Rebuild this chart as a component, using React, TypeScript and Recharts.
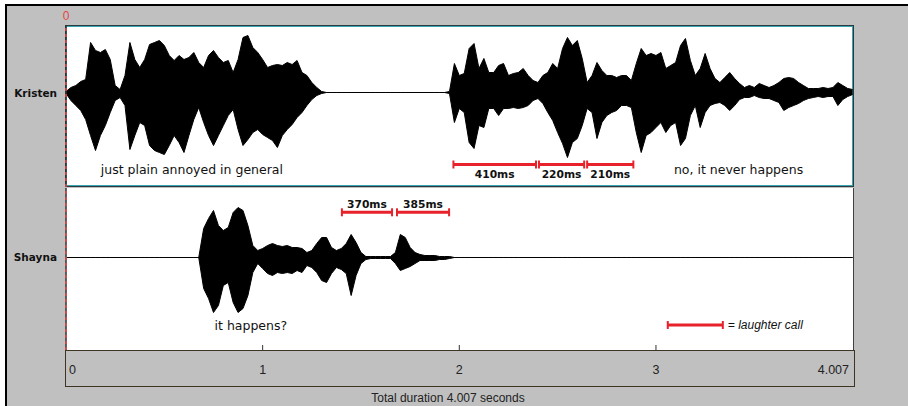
import React from "react";
import {
  Area,
  ComposedChart,
  ReferenceDot,
  ReferenceLine,
  XAxis,
  YAxis,
} from "recharts";

const DURATION = 4.007; // seconds
const SAMPLE_STEP = 0.025; // seconds between envelope samples

// waveform envelopes: peak above / below the zero line, one value per sample
const kristenUpper = [
  1, 5, 7, 11, 13, 50, 42, 40, 43, 33, 7, 3, 17, 50, 33, 25, 33, 48, 50, 52,
  47, 37, 32, 37, 33, 35, 40, 30, 25, 37, 42, 35, 30, 32, 20, 33, 55, 57, 45, 40,
  33, 25, 27, 28, 27, 30, 28, 32, 20, 17, 10, 5, 1,
  0, 0, 0, 0, 0, 0, 0, 0, 0, 0, 0, 0, 0, 0, 0, 0, 0, 0, 0, 0, 0, 0, 0, 0, 0,
  1, 29, 17, 19, 44, 49, 24, 34, 20, 20, 27, 29, 17, 19, 20, 24, 17, 12, 10, 17,
  20, 29, 24, 44, 55, 47, 52, 34, 10, 17, 30, 22, 17, 17, 15, 17, 17, 12, 29, 44,
  37, 39, 37,
  40, 24, 27, 30, 47, 54, 32, 17, 24, 39, 24, 14, 10, 15, 20, 14, 9, 5, 7, 5,
  9, 7, 5, 7, 10, 14, 15, 14, 10, 7, 4, 4, 4, 5, 4, 5, 10, 7, 4, 3,
];
const kristenLower = [
  1, 8, 13, 18, 27, 43, 58, 43, 33, 20, 8, 5, 13, 57, 43, 30, 33, 53, 58, 60,
  62, 53, 43, 50, 60, 43, 27, 15, 30, 43, 53, 43, 33, 23, 17, 37, 53, 47, 40, 37,
  42, 45, 48, 55, 43, 37, 32, 25, 20, 13, 7, 3, 1,
  0, 0, 0, 0, 0, 0, 0, 0, 0, 0, 0, 0, 0, 0, 0, 0, 0, 0, 0, 0, 0, 0, 0, 0, 0,
  1, 30, 16, 20, 50, 56, 33, 35, 16, 16, 23, 16, 16, 15, 16, 15, 13, 8, 6, 11,
  20, 28, 40, 51, 65, 50, 46, 33, 16, 20, 46, 30, 23, 20, 18, 13, 13, 15, 40, 60,
  43, 40, 35,
  30, 40, 33, 30, 53, 46, 23, 13, 35, 20, 13, 11, 10, 13, 18, 13, 7, 5, 5, 3,
  5, 6, 6, 8, 10, 18, 15, 13, 11, 8, 6, 5, 4, 5, 4, 4, 13, 7, 4, 2,
];
const shaynaUpper = [
  0, 0, 0, 0, 0, 0, 0, 0, 0, 0, 0, 0, 0, 0, 0, 0, 0, 0, 0, 0, 0, 0, 0, 0, 0, 0, 0, 0,
  29, 39, 47, 32, 27, 30, 45, 50, 47, 32, 12, 7, 9, 12, 14, 12, 11, 12, 10, 10,
  9, 5, 7, 14, 20, 20, 10, 7, 9, 14, 23, 15, 5, 1, 1, 1, 1, 1, 1, 5,
  23, 20, 10, 5, 3, 2, 2, 2, 1, 1, 1,
  0, 0, 0, 0, 0, 0, 0, 0, 0, 0, 0, 0, 0, 0, 0, 0, 0, 0, 0, 0,
  0, 0, 0, 0, 0, 0, 0, 0, 0, 0, 0, 0, 0, 0, 0, 0, 0, 0, 0, 0,
  0, 0, 0, 0, 0, 0, 0, 0, 0, 0, 0, 0, 0, 0, 0, 0, 0, 0, 0, 0,
  0, 0, 0, 0, 0, 0, 0, 0, 0, 0, 0, 0, 0, 0, 0, 0, 0, 0, 0, 0, 0, 0,
];
const shaynaLower = [
  0, 0, 0, 0, 0, 0, 0, 0, 0, 0, 0, 0, 0, 0, 0, 0, 0, 0, 0, 0, 0, 0, 0, 0, 0, 0, 0, 0,
  31, 41, 55, 48, 28, 25, 45, 55, 51, 38, 15, 6, 11, 16, 18, 15, 16, 15, 16, 13,
  15, 8, 10, 15, 23, 25, 16, 10, 12, 16, 38, 18, 6, 2, 1, 1, 1, 1, 1, 6,
  13, 11, 9, 6, 3, 3, 3, 3, 2, 2, 1,
  0, 0, 0, 0, 0, 0, 0, 0, 0, 0, 0, 0, 0, 0, 0, 0, 0, 0, 0, 0,
  0, 0, 0, 0, 0, 0, 0, 0, 0, 0, 0, 0, 0, 0, 0, 0, 0, 0, 0, 0,
  0, 0, 0, 0, 0, 0, 0, 0, 0, 0, 0, 0, 0, 0, 0, 0, 0, 0, 0, 0,
  0, 0, 0, 0, 0, 0, 0, 0, 0, 0, 0, 0, 0, 0, 0, 0, 0, 0, 0, 0, 0, 0,
];

const timeTicks = [0, 1, 2, 3, 4.007];

// laughter calls (seconds)
const kristenCalls = [
  { label: "410ms", start: 1.97, end: 2.39 },
  { label: "220ms", start: 2.405, end: 2.635 },
  { label: "210ms", start: 2.65, end: 2.885 },
];
const shaynaCalls = [
  { label: "370ms", start: 1.403, end: 1.658 },
  { label: "385ms", start: 1.683, end: 1.948 },
];
const kristenCaptions = [
  { text: "just plain annoyed in general", t: 0.64 },
  { text: "no, it never happens", t: 3.42 },
];
const shaynaCaptions = [{ text: "it happens?", t: 0.94 }];
const legendCall = { start: 3.06, end: 3.34, text: "= laughter call" };

const kristenData = kristenUpper.map((u, i) => ({
  t: +(i * SAMPLE_STEP).toFixed(3),
  wave: [-kristenLower[i], u],
}));
const shaynaData = shaynaUpper.map((u, i) => ({
  t: +(i * SAMPLE_STEP).toFixed(3),
  wave: [-shaynaLower[i], u],
}));

const RED = "#e8222a";
const CURSOR = "#e84545";
const GRAY = "#c0c0c0";
const VERDANA = "'DejaVu Sans', Verdana, sans-serif";
const ARIAL = "'Liberation Sans', Arial, sans-serif";

const textShape = (text: string, style: any) => (p: any) =>
  (
    <text
      x={p.cx}
      y={p.cy}
      dominantBaseline="central"
      textAnchor={style.anchor || "middle"}
      fontFamily={style.font}
      fontSize={style.size}
      fontWeight={style.weight || "normal"}
      fontStyle={style.italic ? "italic" : "normal"}
      fill="#111"
    >
      {text}
    </text>
  );

const callMarks = (
  calls: { label?: string; start: number; end: number }[],
  y: number,
  labelY: number | null
) =>
  calls.flatMap((c, i) => {
    const items = [
      <ReferenceLine
        key={`b${i}`}
        segment={[
          { x: c.start, y },
          { x: c.end, y },
        ]}
        stroke={RED}
        strokeWidth={3}
      />,
      <ReferenceLine
        key={`l${i}`}
        segment={[
          { x: c.start, y: y - 4 },
          { x: c.start, y: y + 4 },
        ]}
        stroke={RED}
        strokeWidth={2}
      />,
      <ReferenceLine
        key={`r${i}`}
        segment={[
          { x: c.end, y: y - 4 },
          { x: c.end, y: y + 4 },
        ]}
        stroke={RED}
        strokeWidth={2}
      />,
    ];
    if (labelY !== null && c.label) {
      items.push(
        <ReferenceDot
          key={`t${i}`}
          x={(c.start + c.end) / 2}
          y={labelY}
          r={0}
          shape={textShape(c.label, { font: VERDANA, size: 10.7, weight: "bold" })}
        />
      );
    }
    return items;
  });

const TimeTick = (props: any) => {
  const { x, y, payload } = props;
  const v = payload.value;
  const first = v === 0;
  const last = v === DURATION;
  return (
    <g>
      {!first && !last && (
        <line x1={x} x2={x} y1={y - 5} y2={y} stroke="#333" strokeWidth={1} />
      )}
      <text
        x={first ? x + 3 : last ? x - 5 : x}
        y={y + 24}
        textAnchor={first ? "start" : last ? "end" : "middle"}
        fontFamily={ARIAL}
        fontSize={12.5}
        fill="#222"
      >
        {last ? "4.007" : String(v)}
      </text>
    </g>
  );
};

const trackLabel = (text: string, cy: number) => (
  <div
    style={{
      position: "absolute",
      left: 0,
      width: 57,
      top: cy - 7,
      lineHeight: "14px",
      textAlign: "right",
      fontFamily: VERDANA,
      fontWeight: "bold",
      fontSize: 10.5,
      color: "#111",
    }}
  >
    {text}
  </div>
);

export default function App() {
  return (
    <div
      style={{
        position: "absolute",
        left: 0,
        top: 0,
        width: 908,
        height: 406,
        background: "#fff",
        overflow: "hidden",
      }}
    >
      {/* window frame */}
      <div
        style={{
          position: "absolute",
          left: 5,
          top: 4,
          width: 903,
          height: 402,
          background: GRAY,
          borderTop: "2px solid #000",
          borderLeft: "2px solid #000",
          boxSizing: "border-box",
        }}
      />
      {trackLabel("Kristen", 93)}
      {trackLabel("Shayna", 257)}

      {/* track backgrounds */}
      <div
        style={{
          position: "absolute",
          left: 66,
          top: 26,
          width: 787,
          height: 160,
          background: "#fff",
          border: "1px solid #3aa3b2",
          outline: "1px solid #2a3a3e",
          boxSizing: "border-box",
        }}
      />
      <div
        style={{
          position: "absolute",
          left: 66,
          top: 188,
          width: 788,
          height: 162,
          background: "#fff",
          borderRight: "1px solid #404040",
          boxSizing: "border-box",
        }}
      />
      <div
        style={{
          position: "absolute",
          left: 65,
          top: 350,
          width: 790,
          height: 37,
          border: "1px solid #3d3424",
          boxSizing: "border-box",
        }}
      />

      <div style={{ position: "absolute", left: 56, top: 5 }}>
        <ComposedChart
          width={798}
          height={182}
          data={kristenData}
          margin={{ top: 20, right: 0, bottom: 0, left: 10 }}
        >
          <XAxis dataKey="t" type="number" domain={[0, DURATION]} hide allowDataOverflow />
          <YAxis type="number" domain={[-94.5, 67.5]} hide allowDataOverflow />
          <Area
            dataKey="wave"
            type="linear"
            stroke="#000"
            strokeWidth={1}
            fill="#000"
            fillOpacity={1}
            dot={false}
            activeDot={false}
            isAnimationActive={false}
          />
          <ReferenceLine x={0} stroke="#333" strokeWidth={1.5} />
          <ReferenceLine
            x={0}
            stroke={CURSOR}
            strokeWidth={1.5}
            strokeDasharray="3 3"
            label={{ value: "0", position: "top", fill: CURSOR, fontSize: 12, fontFamily: ARIAL, offset: 5 }}
          />
          {callMarks(kristenCalls, -72, -81.5)}
          {kristenCaptions.map((c, i) => (
            <ReferenceDot
              key={`c${i}`}
              x={c.t}
              y={-76.5}
              r={0}
              shape={textShape(c.text, { font: VERDANA, size: 12.5 })}
            />
          ))}
        </ComposedChart>
      </div>

      <div style={{ position: "absolute", left: 56, top: 188 }}>
        <ComposedChart
          width={798}
          height={198}
          data={shaynaData}
          margin={{ top: 0, right: 0, bottom: 0, left: 10 }}
        >
          <XAxis
            dataKey="t"
            type="number"
            domain={[0, DURATION]}
            ticks={timeTicks}
            interval={0}
            height={36}
            axisLine={false}
            tickLine={false}
            tickSize={0}
            tickMargin={0}
            tick={<TimeTick />}
            allowDataOverflow
          />
          <YAxis type="number" domain={[-92.5, 69.5]} hide allowDataOverflow />
          <Area
            dataKey="wave"
            type="linear"
            stroke="#000"
            strokeWidth={1}
            fill="#000"
            fillOpacity={1}
            dot={false}
            activeDot={false}
            isAnimationActive={false}
          />
          <ReferenceLine x={0} stroke="#333" strokeWidth={1.5} />
          <ReferenceLine x={0} stroke={CURSOR} strokeWidth={1.5} strokeDasharray="3 3" />
          {callMarks(shaynaCalls, 45.2, 53.5)}
          {shaynaCaptions.map((c, i) => (
            <ReferenceDot
              key={`c${i}`}
              x={c.t}
              y={-67.5}
              r={0}
              shape={textShape(c.text, { font: VERDANA, size: 12.5 })}
            />
          ))}
          {callMarks([legendCall], -67.5, null)}
          <ReferenceDot
            x={legendCall.end}
            y={-67.5}
            r={0}
            shape={(p: any) => (
              <text
                x={p.cx + 5}
                y={p.cy}
                dominantBaseline="central"
                fontFamily={ARIAL}
                fontSize={12}
                fontStyle="italic"
                fill="#111"
              >
                {legendCall.text}
              </text>
            )}
          />
        </ComposedChart>
      </div>

      <div
        style={{
          position: "absolute",
          left: 0,
          width: 896,
          top: 391,
          lineHeight: "14px",
          textAlign: "center",
          fontFamily: ARIAL,
          fontSize: 12,
          color: "#222",
        }}
      >
        Total duration 4.007 seconds
      </div>
    </div>
  );
}
